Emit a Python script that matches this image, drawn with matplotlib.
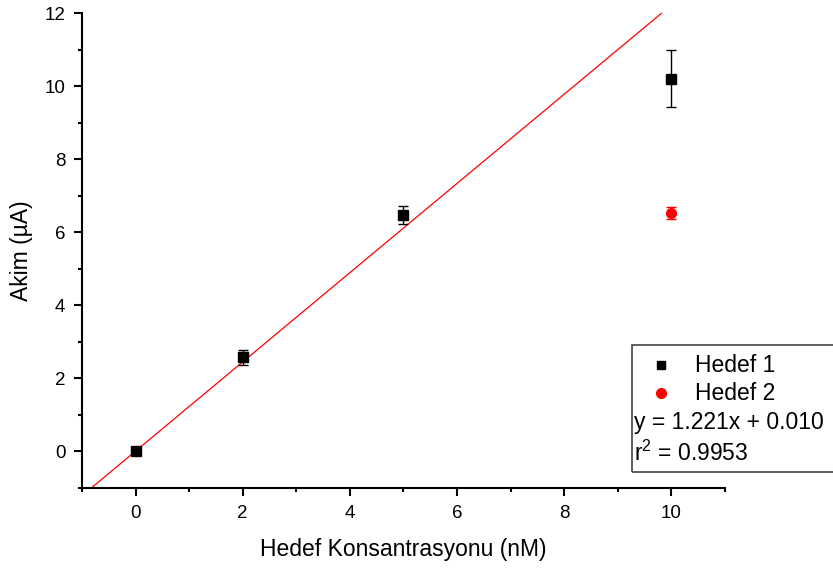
import matplotlib
matplotlib.use("Agg")
import matplotlib.pyplot as plt
from matplotlib.patches import Rectangle
from matplotlib.ticker import MultipleLocator
import numpy as np

plt.rcParams['font.family'] = ['Liberation Sans', 'DejaVu Sans']
plt.rcParams['mathtext.fontset'] = 'custom'
plt.rcParams['mathtext.rm'] = 'Liberation Sans'

# Hedef 1 measurements
conc1 = [0, 2, 5, 10]
akim1 = [0.0, 2.58, 6.47, 10.2]
err1 = [0.0, 0.2, 0.24, 0.78]

# Hedef 2 measurement
conc2 = [10]
akim2 = [6.53]
err2 = [0.17]

# linear fit
slope = 1.221
intercept = 0.010
r2 = 0.9953

fig = plt.figure(figsize=(8.33, 5.72), dpi=100)
ax = fig.add_axes([82/833, 1 - 488/572, (725 - 82)/833, (488 - 13)/572])

xfit = np.linspace(-1, 11, 200)
ax.plot(xfit, slope * xfit + intercept, color='red', lw=0.9, zorder=1)

ax.errorbar(conc1, akim1, yerr=err1, fmt='s', color='black', ms=6.5,
            ecolor='black', elinewidth=1, capsize=3.5, capthick=1, zorder=3)
ax.errorbar(conc2, akim2, yerr=err2, fmt='o', color='red', ms=7,
            ecolor='red', elinewidth=1, capsize=3.5, capthick=1, zorder=3)

ax.set_xlim(-1, 11)
ax.set_ylim(-1, 12)
ax.xaxis.set_major_locator(MultipleLocator(2))
ax.xaxis.set_minor_locator(MultipleLocator(1))
ax.yaxis.set_major_locator(MultipleLocator(2))
ax.yaxis.set_minor_locator(MultipleLocator(1))
ax.spines['top'].set_visible(False)
ax.spines['right'].set_visible(False)
for s in ['left', 'bottom']:
    ax.spines[s].set_linewidth(1.5)
ax.tick_params(which='major', direction='out', length=6, width=1.5,
               labelsize=13.5, pad=6)
ax.tick_params(which='minor', direction='out', length=3, width=1.5)

ax.set_xlabel('Hedef Konsantrasyonu (nM)', fontsize=16.5, labelpad=12)
ax.set_ylabel('Akim (µA)', fontsize=16.5, labelpad=8)

# legend box with fit results, running off the right edge
fig.patches.append(Rectangle((632/833, 1 - 472/572), 0.3, (472 - 345)/572,
                             transform=fig.transFigure, fill=False,
                             edgecolor='#444444', lw=1.2))
fig.lines.append(plt.Line2D([661/833], [1 - 365/572], marker='s', color='black',
                            ms=6, transform=fig.transFigure))
fig.lines.append(plt.Line2D([661/833], [1 - 393/572], marker='o', color='red',
                            ms=7, transform=fig.transFigure))
fig.text(695/833, 1 - 365/572, 'Hedef 1', fontsize=16.5, va='center')
fig.text(695/833, 1 - 393/572, 'Hedef 2', fontsize=16.5, va='center')
fig.text(634/833, 1 - 422/572, 'y = %.3fx + %.3f' % (slope, intercept),
         fontsize=16.5, va='center')
fig.text(634/833, 1 - 453/572, 'r$^{\\mathregular{2}}$ = %.4f' % r2,
         fontsize=16.5, va='center')

fig.savefig('out.png', dpi=100)
